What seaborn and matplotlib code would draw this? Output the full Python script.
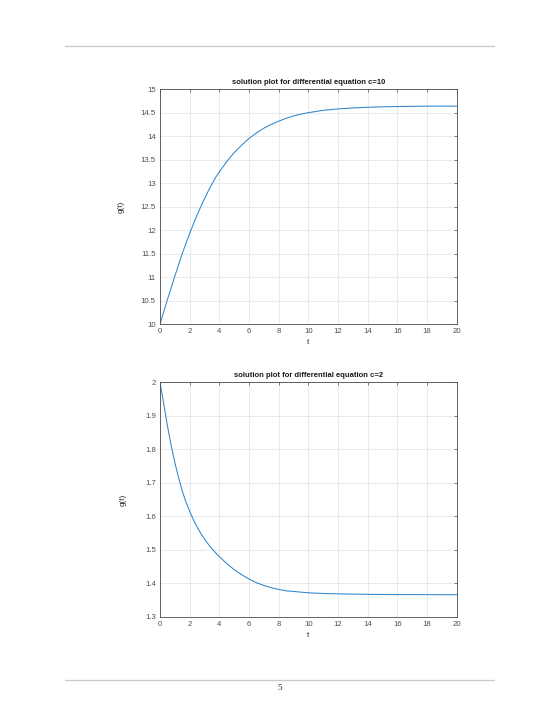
#!/usr/bin/env python

# two solution curves of the differential equation, page-style layout

import pandas as pd
import seaborn as sns
import matplotlib.pyplot as plt

t = [0, 0.25, 0.5, 0.75, 1, 1.25, 1.5, 1.75, 2, 2.25, 2.5, 2.75, 3, 3.25, 3.5, 3.75,
     4, 4.5, 5, 5.5, 6, 6.5, 7, 7.5, 8, 8.5, 9, 9.5,
     10, 11, 12, 13, 14, 15, 16, 17, 18, 19, 20]
g_c10 = [10.0, 10.26, 10.52, 10.77, 11.02, 11.26, 11.5, 11.72, 11.93, 12.13, 12.32,
         12.5, 12.67, 12.83, 12.98, 13.12, 13.24, 13.46, 13.65,
         13.81, 13.95, 14.07, 14.17, 14.25, 14.32, 14.38, 14.43, 14.47, 14.5, 14.55,
         14.58, 14.6, 14.615, 14.625, 14.63, 14.635, 14.638, 14.64, 14.64]
g_c2 = [2.0, 1.935, 1.87, 1.812, 1.76, 1.716, 1.675, 1.643, 1.615, 1.59, 1.568,
        1.549, 1.532, 1.517, 1.503, 1.491, 1.48, 1.459, 1.441,
        1.426, 1.413, 1.402, 1.394, 1.387, 1.382, 1.378, 1.376, 1.374, 1.372, 1.370,
        1.369, 1.368, 1.3675, 1.367, 1.3668, 1.3666, 1.3665, 1.3664, 1.3664]

xticks = list(range(0, 21, 2))
yticks_c10 = [10, 10.5, 11, 11.5, 12, 12.5, 13, 13.5, 14, 14.5, 15]
yticks_c2 = [1.3, 1.4, 1.5, 1.6, 1.7, 1.8, 1.9, 2]
titles = ['solution plot for differential equation c=10',
          'solution plot for differential equation c=2']

sns.set_style('white')
plt.rcParams['font.family'] = ['Liberation Sans', 'DejaVu Sans']

fig = plt.figure(figsize=(5.6, 7.25), dpi=100)

# page header / footer rules and page number
fig.add_artist(plt.Line2D([0.116, 0.882], [1 - 45.5 / 725] * 2, color='#c8c8c8', lw=0.9))
fig.add_artist(plt.Line2D([0.116, 0.882], [1 - 680 / 725] * 2, color='#c8c8c8', lw=0.9))
fig.text(0.5, 1 - 688 / 725, '5', ha='center', va='center', fontsize=6.5,
         family='Liberation Serif', color='#222222')

panels = [
    ([0.2857, 0.553, 0.530, 0.324], g_c10, yticks_c10, titles[0], -0.118),
    ([0.2857, 0.149, 0.530, 0.324], g_c2, yticks_c2, titles[1], -0.112),
]

for rect, g, yticks, title, ylab_x in panels:
    ax = fig.add_axes(rect)
    df = pd.DataFrame({'t': t, 'g': g})
    sns.lineplot(data=df, x='t', y='g', ax=ax, color='#2f86cc', linewidth=0.75)
    ax.set_xlim(0, 20)
    ax.set_ylim(yticks[0], yticks[-1])
    ax.set_xticks(xticks)
    ax.set_yticks(yticks)
    ax.set_yticklabels([f'{v:g}' for v in yticks])
    ax.grid(True, color='#e2e2e2', linewidth=0.5)
    ax.tick_params(direction='in', length=2.5, width=0.5, labelsize=5.6,
                   colors='#505050', top=True, right=True, pad=3)
    for s in ax.spines.values():
        s.set_color('#4a4a4a')
        s.set_linewidth(0.6)
    ax.set_xlabel('t', fontsize=5.8, color='#262626', labelpad=2.5)
    ax.set_ylabel('g(t)', fontsize=5.8, color='#262626')
    ax.yaxis.set_label_coords(ylab_x, 0.5)
    ax.set_title(title, fontsize=5.5, fontweight='bold', color='#1a1a1a', pad=3.5)

plt.savefig('out.png', dpi=100)
plt.close()
